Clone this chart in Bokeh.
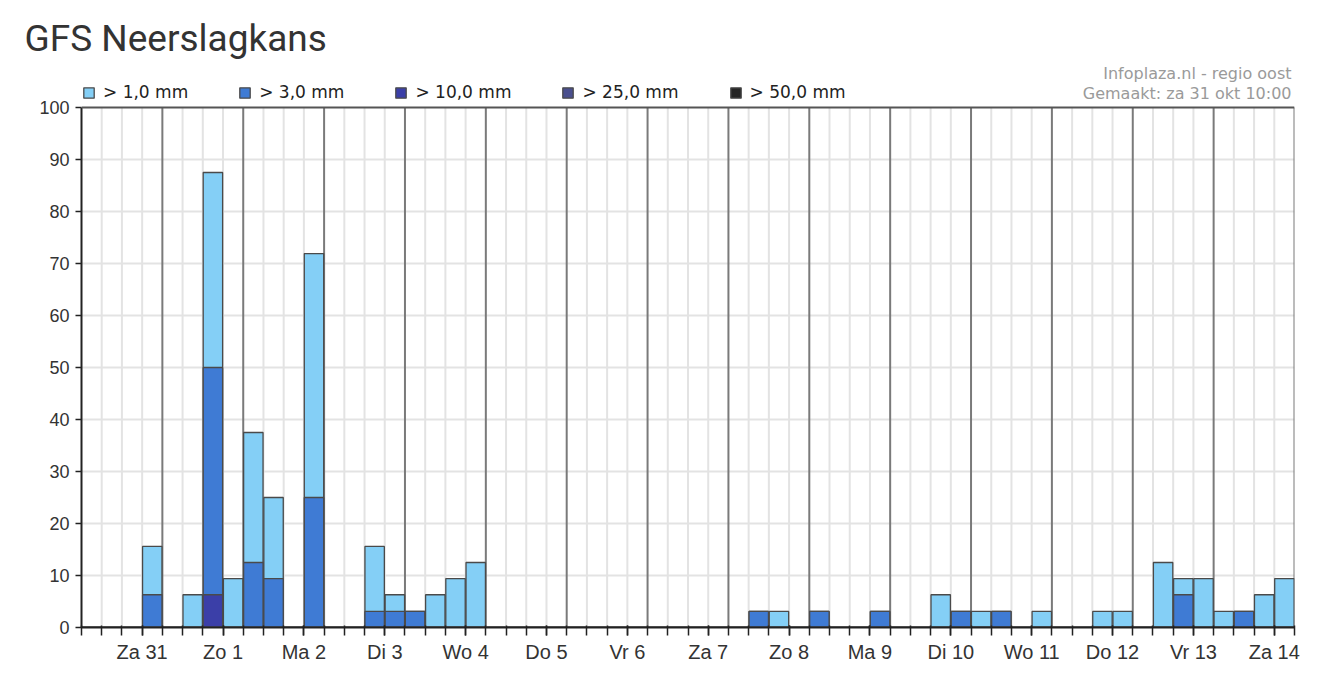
from bokeh.plotting import figure
from bokeh.models import Range1d, FixedTicker, Span, Label, Legend, LegendItem
from bokeh.embed import file_html
from bokeh.resources import INLINE

# ---- data ----
day_labels = ["Za 31", "Zo 1", "Ma 2", "Di 3", "Wo 4", "Do 5", "Vr 6", "Za 7",
              "Zo 8", "Ma 9", "Di 10", "Wo 11", "Do 12", "Vr 13", "Za 14"]
slots_per_day = 4

# probability (%) per 6-hour slot, 60 slots
p_1mm = [0, 0, 0, 15.6,   0, 6.3, 87.5, 9.4,   37.5, 25, 0, 71.9,   0, 0, 15.6, 6.3,
         3.1, 6.3, 9.4, 12.5,   0, 0, 0, 0,   0, 0, 0, 0,   0, 0, 0, 0,
         0, 3.1, 3.1, 0,   3.1, 0, 0, 3.1,   0, 0, 6.3, 3.1,   3.1, 3.1, 0, 3.1,
         0, 0, 3.1, 3.1,   0, 12.5, 9.4, 9.4,   3.1, 3.1, 6.3, 9.4]
p_3mm = [0, 0, 0, 6.3,   0, 0, 50, 0,   12.5, 9.4, 0, 25,   0, 0, 3.1, 3.1,
         3.1, 0, 0, 0,   0, 0, 0, 0,   0, 0, 0, 0,   0, 0, 0, 0,
         0, 3.1, 0, 0,   3.1, 0, 0, 3.1,   0, 0, 0, 3.1,   0, 3.1, 0, 0,
         0, 0, 0, 0,   0, 0, 6.3, 0,   0, 3.1, 0, 0]
p_10mm = [0, 0, 0, 0,   0, 0, 6.3, 0] + [0] * 52
p_25mm = [0] * 60
p_50mm = [0] * 60

series_names = ["> 1,0 mm", "> 3,0 mm", "> 10,0 mm", "> 25,0 mm", "> 50,0 mm"]
series_values = [p_1mm, p_3mm, p_10mm, p_25mm, p_50mm]
series_colors = ["#84cff6", "#3f7bd4", "#3b3fa8", "#4a4f8e", "#262626"]

y_ticks = [0, 10, 20, 30, 40, 50, 60, 70, 80, 90, 100]

n_slots = len(p_1mm)
n_days = len(day_labels)

# ---- figure ----
p = figure(width=1331, height=677, output_backend="svg", toolbar_location=None,
           x_range=Range1d(0, n_slots), y_range=Range1d(0, 108.65),
           min_border_left=81, min_border_right=37, min_border_top=62, min_border_bottom=50,
           title="GFS Neerslagkans")
p.outline_line_color = None
p.background_fill_color = "white"
p.border_fill_color = "white"

p.title.text_font = "Roboto"
p.title.text_font_size = "37px"
p.title.text_font_style = "normal"
p.title.text_color = "#333333"
p.title.offset = -57
p.title.standoff = 6

# grid
p.xgrid.visible = False
p.ygrid.ticker = FixedTicker(ticks=y_ticks[1:-1])
p.ygrid.grid_line_color = "#e3e3e3"
p.ygrid.grid_line_width = 2

edges = list(range(n_slots + 1))
light_edges = [e for e in edges if e % slots_per_day != 0]
day_edges = [e for e in edges if e % slots_per_day == 0 and e > 0]
p.segment(x0=light_edges, y0=[0] * len(light_edges), x1=light_edges,
          y1=[y_ticks[-1]] * len(light_edges), line_color="#e3e3e3", line_width=2)
p.segment(x0=day_edges, y0=[0] * len(day_edges), x1=day_edges,
          y1=[y_ticks[-1]] * len(day_edges), line_color="#7a7a7a", line_width=2)
p.add_layout(Span(location=y_ticks[-1], dimension="width", line_color="#555555", line_width=2))

# bars (overlapping, from 0); zero-height bars lie under the x axis line
items = []
xs = [i + 0.5 for i in range(n_slots)]
for name, vals, col in zip(series_names, series_values, series_colors):
    r = p.vbar(x=xs, top=vals, bottom=0, width=0.96, fill_color=col,
               line_color="#4a4a4a", line_width=1.3)
    items.append(LegendItem(label=name, renderers=[r]))

legend = Legend(items=items, orientation="horizontal", location=(1, 525),
                spacing=50, label_standoff=8, glyph_width=13, glyph_height=13,
                padding=0, margin=0, border_line_color=None, background_fill_alpha=0,
                label_text_font="DejaVu Sans", label_text_font_size="17px",
                label_text_color="#222222")
p.add_layout(legend)

# credits
p.add_layout(Label(x=n_slots, y=106.5, x_offset=-3, text="Infoplaza.nl - regio oost",
                   text_align="right", text_baseline="middle", text_font="DejaVu Sans",
                   text_font_size="16px", text_color="#9a9a9a"))
p.add_layout(Label(x=n_slots, y=102.7, x_offset=-3, text="Gemaakt: za 31 okt 10:00",
                   text_align="right", text_baseline="middle", text_font="DejaVu Sans",
                   text_font_size="16px", text_color="#9a9a9a"))

# x axis
label_pos = [d * slots_per_day + 3 for d in range(n_days)]
p.xaxis.ticker = FixedTicker(ticks=label_pos, minor_ticks=edges)
p.xaxis.major_label_overrides = {pos: lab for pos, lab in zip(label_pos, day_labels)}
p.xaxis.axis_line_color = "#222222"
p.xaxis.axis_line_width = 2
p.xaxis.major_tick_line_color = "#222222"
p.xaxis.minor_tick_line_color = "#222222"
p.xaxis.major_tick_line_width = 1.5
p.xaxis.minor_tick_line_width = 1.5
p.xaxis.major_tick_in = 2
p.xaxis.major_tick_out = 8
p.xaxis.minor_tick_in = 2
p.xaxis.minor_tick_out = 8
p.xaxis.major_label_standoff = 5
p.xaxis.major_label_text_font = "Liberation Sans"
p.xaxis.major_label_text_font_size = "20px"
p.xaxis.major_label_text_color = "#333333"

# y axis
p.yaxis.ticker = FixedTicker(ticks=y_ticks)
p.yaxis.bounds = (y_ticks[0], y_ticks[-1])
p.yaxis.axis_line_color = "#222222"
p.yaxis.axis_line_width = 2
p.yaxis.major_tick_line_color = "#222222"
p.yaxis.major_tick_line_width = 1.5
p.yaxis.major_tick_in = 0
p.yaxis.major_tick_out = 6
p.yaxis.minor_tick_line_color = None
p.yaxis.major_label_standoff = 6
p.yaxis.major_label_text_font = "Liberation Sans"
p.yaxis.major_label_text_font_size = "18px"
p.yaxis.major_label_text_color = "#333333"

open("out.html", "w").write(file_html(p, INLINE))
